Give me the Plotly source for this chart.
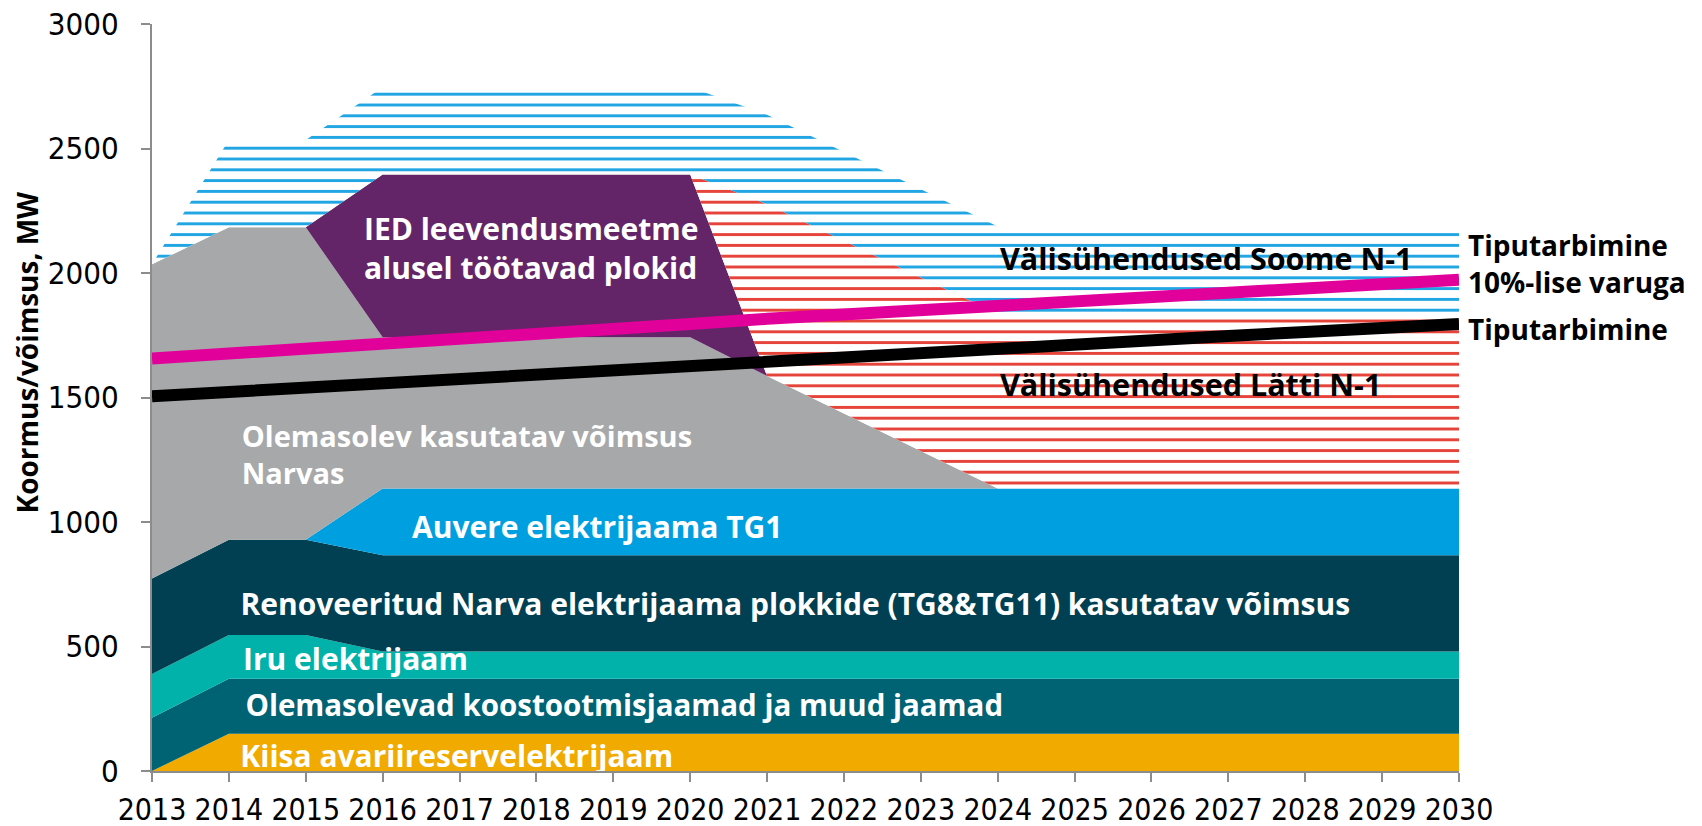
import plotly.graph_objects as go

# ---------------- data (MW) ----------------
years = list(range(2013, 2031))

kiisa = [0] + [150] * 17
koostootmis = [214] + [220] * 17
iru = [176, 176, 176] + [110] * 15
narva_renov = [383, 383, 383] + [386] * 15
auvere = [0, 0, 0] + [269] * 15
narva_olemas = [1262, 1255, 1255, 607, 607, 607, 607, 607, 451, 301, 150] + [0] * 7
ied = [0, 0, 0, 654, 654, 654, 654, 654] + [0] * 10
latti_n1 = [0] * 8 + [690, 692, 697, 702, 702, 702, 702, 702, 702, 702]
soome_n1 = [0] + [350] * 7 + [360, 358, 352] + [350] * 7

tiputarbimine = [1505, 1523, 1541, 1559, 1577, 1596, 1614, 1632, 1650,
                 1666, 1682, 1698, 1714, 1730, 1747, 1763, 1779, 1795]
tiputarbimine_varu = [1657, 1675, 1693, 1711, 1732, 1753, 1774, 1795, 1816,
                      1834, 1851, 1868, 1885, 1903, 1920, 1937, 1955, 1973]

y_ticks = [0, 500, 1000, 1500, 2000, 2500, 3000]

series_names = [
    "Kiisa avariireservelektrijaam",
    "Olemasolevad koostootmisjaamad ja muud jaamad",
    "Iru elektrijaam",
    "Renoveeritud Narva elektrijaama plokkide (TG8&TG11) kasutatav võimsus",
    "Auvere elektrijaama TG1",
    "Olemasolev kasutatav võimsus Narvas",
    "IED leevendusmeetme alusel töötavad plokid",
    "Välisühendused Lätti N-1",
    "Välisühendused Soome N-1",
]
series_values = [kiisa, koostootmis, iru, narva_renov, auvere, narva_olemas,
                 ied, latti_n1, soome_n1]

# ---------------- styles ----------------
fill_colors = ["#F0AA00", "#006373", "#00B2A9", "#004052", "#00A0E0",
               "#A7A8AA", "#632567", None, None]
hatch_colors = [None] * 7 + ["#E6433A", "#22A6E3"]

LABEL_FONT = "Open Sans, DejaVu Sans, sans-serif"
TICK_FONT = "Liberation Sans Narrow, DejaVu Sans Condensed, Liberation Sans, sans-serif"

# in-chart labels (text, x, y, colour, size)
inner_labels = [
    ("IED leevendusmeetme<br>alusel töötavad plokid", 2015.757, 2086, "white", 30),
    ("Olemasolev kasutatav võimsus<br>Narvas", 2014.167, 1256, "white", 29),
    ("Auvere elektrijaama TG1", 2016.382, 964, "white", 30),
    ("Renoveeritud Narva elektrijaama plokkide (TG8&TG11) kasutatav võimsus", 2014.151, 657, "white", 30),
    ("Iru elektrijaam", 2014.184, 436, "white", 30),
    ("Olemasolevad koostootmisjaamad ja muud jaamad", 2014.215, 249, "white", 29.5),
    ("Kiisa avariireservelektrijaam", 2014.149, 48, "white", 30),
    ("Välisühendused Soome N-1", 2024.03, 2042, "black", 30.5),
    ("Välisühendused Lätti N-1", 2024.03, 1538, "black", 30.5),
]
outer_labels = [
    ("Tiputarbimine", 2112),
    ("10%-lise varuga", 1962),
    ("Tiputarbimine", 1775),
]

fig = go.Figure()

for name, vals, fc, hc in zip(series_names, series_values, fill_colors, hatch_colors):
    kw = dict(x=years, y=vals, name=name, mode="lines", stackgroup="one",
              line=dict(width=0), hoverinfo="skip", showlegend=False)
    if hc is None:
        kw["fillcolor"] = fc
    else:
        kw["fillcolor"] = "white"
        kw["fillpattern"] = dict(shape="-", size=10.8, solidity=0.27,
                                 fgcolor=hc, bgcolor="white", fillmode="replace")
    fig.add_trace(go.Scatter(**kw))

fig.add_trace(go.Scatter(x=years, y=tiputarbimine, mode="lines",
                         line=dict(color="#000000", width=12),
                         hoverinfo="skip", showlegend=False))
fig.add_trace(go.Scatter(x=years, y=tiputarbimine_varu, mode="lines",
                         line=dict(color="#E2009A", width=12),
                         hoverinfo="skip", showlegend=False))

for text, x, y, col, size in inner_labels:
    fig.add_trace(go.Scatter(x=[x], y=[y], mode="text", text=[text],
                             textposition="middle right", cliponaxis=True,
                             textfont=dict(family=LABEL_FONT, size=size, color=col,
                                           weight="bold"),
                             hoverinfo="skip", showlegend=False))

for text, y in outer_labels:
    fig.add_annotation(text=text, xref="paper", yref="y", x=1.0055, y=y,
                       xanchor="left", yanchor="middle", showarrow=False,
                       font=dict(family=LABEL_FONT, size=28, color="black",
                                 weight="bold"))

fig.add_annotation(text="Koormus/võimsus, MW", xref="paper", yref="paper",
                   x=-0.096, y=0.561, xanchor="center", yanchor="middle",
                   textangle=-90, showarrow=False,
                   font=dict(family=LABEL_FONT, size=28, color="black", weight="bold"))

axis_common = dict(showline=True, linecolor="#8C8C8C", linewidth=2,
                   ticks="outside", ticklen=9, tickwidth=2, tickcolor="#8C8C8C",
                   showgrid=False, zeroline=False, automargin=False)

fig.update_layout(
    width=1702, height=826,
    margin=dict(l=152, r=243, t=24, b=55, pad=0, autoexpand=False),
    paper_bgcolor="white", plot_bgcolor="white",
    showlegend=False,
    xaxis=dict(range=[2013, 2030], tickvals=years,
               ticktext=[str(y) for y in years], ticklabelstandoff=2,
               tickfont=dict(family=TICK_FONT, size=30, color="black"),
               **axis_common),
    yaxis=dict(range=[0, 3000], tickvals=y_ticks, ticklabelstandoff=16,
               tickfont=dict(family=TICK_FONT, size=31, color="black"),
               **axis_common),
)

fig.write_html("out.html", config={"displayModeBar": False},
               post_script="document.body.style.margin='0px';document.body.style.overflow='hidden';")
